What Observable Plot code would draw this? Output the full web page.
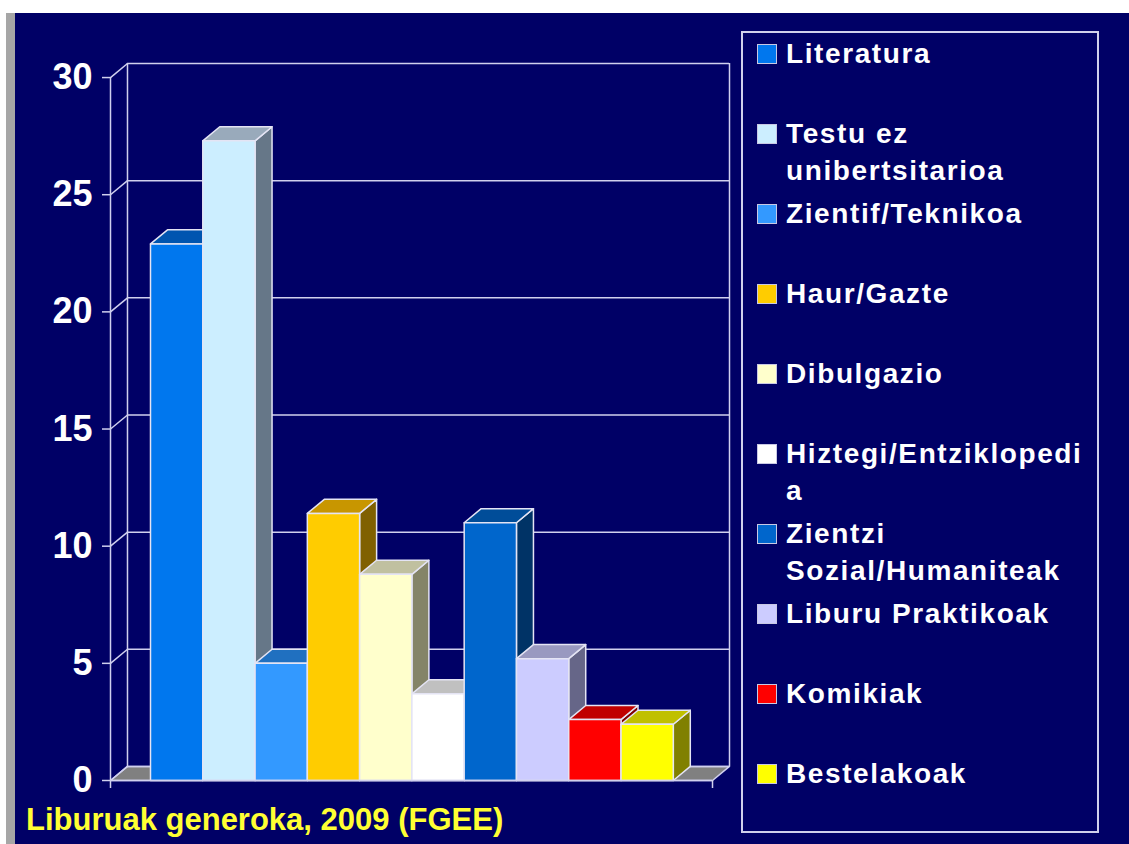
<!DOCTYPE html>
<html>
<head>
<meta charset="utf-8">
<script src="https://cdn.jsdelivr.net/npm/d3@7"></script>
<script src="https://cdn.jsdelivr.net/npm/@observablehq/plot@0.6"></script>
<style>
  html, body { margin: 0; padding: 0; }
  body { width: 1129px; height: 844px; background: #000066; position: relative; overflow: hidden;
         font-family: "Liberation Sans", Arial, sans-serif; }
  #topstrip { position: absolute; left: 0; top: 0; width: 1129px; height: 13px; background: #ffffff; }
  #leftwhite { position: absolute; left: 0; top: 13px; width: 6px; height: 831px; background: #ffffff; }
  #leftgrey { position: absolute; left: 6px; top: 13px; width: 9px; height: 831px; background: #a6a6a6; }
  #chart { position: absolute; left: 0; top: 0; }
  #chart svg { background: transparent; overflow: visible; }
  #chart [aria-label="y-axis tick label"] { font: bold 36px "Liberation Sans", Arial, sans-serif; fill: #ffffff; }
  #caption { position: absolute; left: 26px; top: 804px; font-size: 31px; line-height: 31px; font-weight: bold;
             color: #ffff33; white-space: nowrap; }
  #legend { position: absolute; left: 741px; top: 31px; width: 354px; height: 798px;
            border: 2px solid #d0d0ec; }
  .item { position: absolute; left: 0; }
  .swatch { position: absolute; left: 14px; width: 18px; height: 18px; border: 1px solid #c8c8e4; }
  .label { position: absolute; left: 43px; font-size: 28px; line-height: 37px; font-weight: bold;
           letter-spacing: 1.6px; color: #ffffff; white-space: nowrap; }
</style>
</head>
<body>
<div id="topstrip"></div>
<div id="leftwhite"></div>
<div id="leftgrey"></div>
<div id="chart"></div>
<div id="caption"></div>
<div id="legend"></div>
<script>
// ---- data ----
const categories = [
  "Literatura", "Testu ez unibertsitarioa", "Zientif/Teknikoa", "Haur/Gazte", "Dibulgazio",
  "Hiztegi/Entziklopedia", "Zientzi Sozial/Humaniteak", "Liburu Praktikoak", "Komikiak", "Bestelakoak"
];
const values = [22.9, 27.3, 5.0, 11.4, 8.8, 3.7, 11.0, 5.2, 2.6, 2.4];
const legendLines = [
  ["Literatura"], ["Testu ez", "unibertsitarioa"], ["Zientif/Teknikoa"], ["Haur/Gazte"], ["Dibulgazio"],
  ["Hiztegi/Entziklopedi", "a"], ["Zientzi", "Sozial/Humaniteak"], ["Liburu Praktikoak"], ["Komikiak"], ["Bestelakoak"]
];
const yTicks = [0, 5, 10, 15, 20, 25, 30];
const captionText = "Liburuak generoka, 2009 (FGEE)";

// ---- palette (front, top, side faces) ----
const frontColors = ["#0077ee", "#cceeff", "#3399ff", "#ffcc00", "#ffffcc", "#ffffff", "#0066cc", "#ccccff", "#ff0000", "#ffff00"];
const topColors   = ["#0055b0", "#99aabb", "#2070c0", "#c89600", "#c0c0a0", "#c0c0c0", "#004d99", "#9999c0", "#c00000", "#c0c000"];
const sideColors  = ["#004488", "#667788", "#1a4d88", "#806000", "#848468", "#808080", "#003366", "#666688", "#800000", "#808000"];

// ---- pseudo-3D geometry (in data units) ----
const DEPTH_X = 0.325;      // depth offset along x (bar widths)
const DEPTH_Y = 0.6;        // depth offset along y (value units)
const FLOOR_L = -0.765;     // floor front-left
const FLOOR_R = categories.length + 0.75; // floor front-right
const Y_MAX = 30;
const lineColor = "#d0d0ee";

const floor = [
  {x: FLOOR_L, y: 0}, {x: FLOOR_R, y: 0},
  {x: FLOOR_R + DEPTH_X, y: DEPTH_Y}, {x: FLOOR_L + DEPTH_X, y: DEPTH_Y}
];

const polys = [];
values.forEach((v, i) => {
  const side = [[i + 1, 0], [i + 1 + DEPTH_X, DEPTH_Y], [i + 1 + DEPTH_X, v + DEPTH_Y], [i + 1, v]];
  const top = [[i, v], [i + 1, v], [i + 1 + DEPTH_X, v + DEPTH_Y], [i + DEPTH_X, v + DEPTH_Y]];
  const front = [[i, 0], [i + 1, 0], [i + 1, v], [i, v]];
  [[side, sideColors[i], "s"], [top, topColors[i], "t"], [front, frontColors[i], "f"]].forEach(([pts, c, k]) => {
    pts.forEach(([x, y]) => polys.push({id: `${i}-${k}`, x, y, color: c}));
  });
});

const plot = Plot.plot({
  width: 740,
  height: 800,
  marginLeft: 110,
  marginRight: 11,
  marginTop: 63,
  marginBottom: 20,
  x: {type: "linear", domain: [FLOOR_L, FLOOR_R + DEPTH_X], axis: null, label: null},
  y: {type: "linear", domain: [0, Y_MAX + DEPTH_Y], axis: null, label: null},
  color: {type: "identity"},
  style: {background: "transparent", color: "#ffffff"},
  marks: [
    // floor
    Plot.line(floor, {x: "x", y: "y", fill: "#808080", stroke: lineColor, strokeWidth: 1.5, curve: "linear-closed"}),
    // back wall gridlines
    Plot.ruleY(yTicks, {y: d => d + DEPTH_Y, x1: FLOOR_L + DEPTH_X, x2: FLOOR_R + DEPTH_X, stroke: lineColor, strokeWidth: 1.5}),
    // side wall diagonals
    Plot.link(yTicks, {x1: FLOOR_L, y1: d => d, x2: FLOOR_L + DEPTH_X, y2: d => d + DEPTH_Y, stroke: lineColor, strokeWidth: 1.5}),
    // back wall verticals
    Plot.ruleX([FLOOR_L + DEPTH_X, FLOOR_R + DEPTH_X], {x: d => d, y1: DEPTH_Y, y2: Y_MAX + DEPTH_Y, stroke: lineColor, strokeWidth: 1.5}),
    // front value axis line
    Plot.ruleX([FLOOR_L], {x: d => d, y1: 0, y2: Y_MAX, stroke: lineColor, strokeWidth: 1.5}),
    // bars
    Plot.line(polys, {x: "x", y: "y", z: "id", fill: "color", stroke: "#e4e4f4", strokeWidth: 1.5,
                      strokeLinejoin: "round", curve: "linear-closed"}),
    // floor front edge
    Plot.ruleY([0], {x1: FLOOR_L, x2: FLOOR_R, stroke: lineColor, strokeWidth: 1.5}),
    Plot.axisX({ticks: [FLOOR_L, FLOOR_R], tickSize: 8, tickFormat: () => "", label: null,
                stroke: lineColor, strokeWidth: 1.5}),
    Plot.axisY({ticks: yTicks, tickSize: 8, tickPadding: 10, tickFormat: d => String(d), label: null,
                stroke: lineColor, strokeWidth: 1.5, fill: "#ffffff", fontSize: 36, fontWeight: "bold"})
  ]
});
document.getElementById("chart").appendChild(plot);

// caption
document.getElementById("caption").textContent = captionText;

// legend
const legend = d3.select("#legend");
const STEP = 80.1;
categories.forEach((c, i) => {
  const top = 1.5 + i * STEP;
  const item = legend.append("div").attr("class", "item").style("top", `${top}px`);
  item.append("div").attr("class", "swatch").style("top", "9px").style("background", frontColors[i]);
  item.append("div").attr("class", "label").style("top", "0px").html(legendLines[i].join("<br>"));
});
</script>
</body>
</html>
